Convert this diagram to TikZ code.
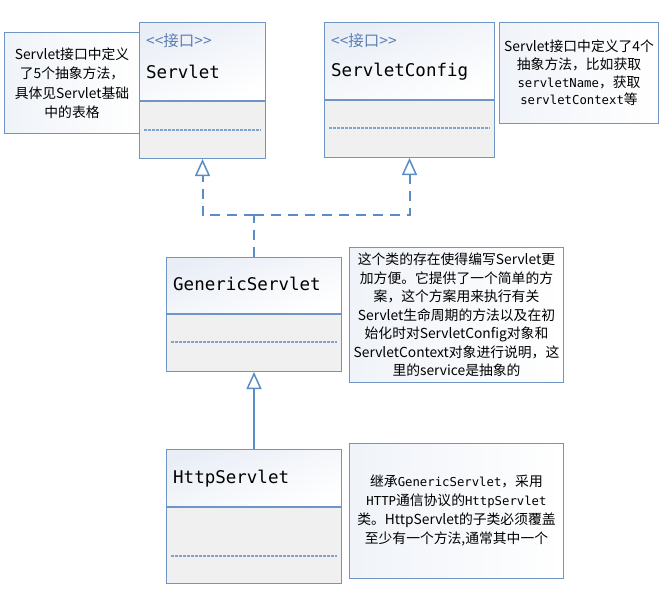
\documentclass[tikz,border=0pt]{standalone}
\usepackage{fontspec}
\setmainfont{Noto Sans CJK SC}
\setmonofont{DejaVu Sans Mono}
\usetikzlibrary{arrows.meta}

\definecolor{umlblue}{HTML}{6F95C4}
\definecolor{arrowblue}{HTML}{5A8CC6}
\definecolor{stereoblue}{HTML}{5B80B2}
\definecolor{lowfill}{HTML}{F0F0F1}
\definecolor{topfill}{HTML}{E9EEF6}
\definecolor{dashblue}{HTML}{7FA3D0}

\newcommand{\notefont}{\fontsize{13.8pt}{18.5pt}\selectfont}
\newcommand{\classfont}{\ttfamily\fontsize{17.5pt}{20pt}\selectfont}
\newcommand{\stereofont}{\fontsize{15.5pt}{18pt}\selectfont}
\newcommand{\code}[1]{{\ttfamily\fontsize{12.3pt}{18.5pt}\selectfont #1}}

\begin{document}
\begin{tikzpicture}[x=1pt, y=-1pt,
    classtop/.style={draw=umlblue, line width=1pt, anchor=north west, inner sep=0pt,
        top color=topfill, bottom color=white, shading angle=20},
    classlow/.style={draw=umlblue, line width=1pt, anchor=north west, inner sep=0pt, fill=lowfill},
    note/.style={draw=umlblue, line width=1pt, anchor=north west, inner sep=0pt,
        left color=topfill!70, right color=white, align=center, font=\notefont},
    classname/.style={anchor=base west, inner sep=0pt, font=\classfont},
    stereo/.style={anchor=base west, inner sep=0pt, font=\stereofont, text=stereoblue},
    opline/.style={draw=dashblue, line width=1.3pt, dash pattern=on 2.5pt off 1.5pt},
    realize/.style={draw=arrowblue, line width=2pt, dash pattern=on 10pt off 7pt},
    inherit/.style={draw=arrowblue, line width=2pt},
    hollow/.style={-{Triangle[open, width=15pt, length=17pt, line width=1.5pt]}}]
    \useasboundingbox[fill=white] (0,0) rectangle (663,591);

    % notes
    \node[note, minimum width=135pt, minimum height=101pt, font=\fontsize{13.8pt}{19.5pt}\selectfont] (servletnote) at (4,32)
        {Servlet接口中定义\\了5个抽象方法，\\具体见Servlet基础\\中的表格};
    \node[note, minimum width=159pt, minimum height=101pt, font=\fontsize{13.8pt}{17.7pt}\selectfont] (confignote) at (499,22)
        {Servlet接口中定义了4个\\抽象方法，比如获取\\\code{servletName}，获取\\\code{servletContext}等};
    \node[note, minimum width=214pt, minimum height=135pt] (genericnote) at (349,247)
        {这个类的存在使得编写Servlet更\\加方便。它提供了一个简单的方\\案，这个方案用来执行有关\\Servlet生命周期的方法以及在初\\始化时对ServletConfig对象和\\ServletContext对象进行说明，这\\里的service是抽象的};
    \node[note, minimum width=214pt, minimum height=135pt, font=\fontsize{13.8pt}{19pt}\selectfont] (httpnote) at (349,443)
        {继承\code{GenericServlet}，采用\\\code{HTTP}通信协议的\code{HttpServlet}\\类。HttpServlet的子类必须覆盖\\至少有一个方法,通常其中一个};

    % Servlet
    \node[classtop, minimum width=126pt, minimum height=78pt] (servlet) at (139,22) {};
    \node[classlow, minimum width=126pt, minimum height=57pt] (servletlow) at (servlet.south west) {};
    \node[stereo] (servletst) at ([xshift=7pt, yshift=-25pt]servlet.north west) {<\kern0pt<接口>\kern0pt>};
    \node[classname] (servletname) at ([xshift=7pt, yshift=-57pt]servlet.north west) {Servlet};
    \draw[opline] ([xshift=5pt, yshift=-29pt]servletlow.north west) -- ([xshift=-5pt, yshift=-29pt]servletlow.north east);

    % ServletConfig
    \node[classtop, minimum width=170pt, minimum height=77pt] (config) at (324,22) {};
    \node[classlow, minimum width=170pt, minimum height=57pt] (configlow) at (config.south west) {};
    \node[stereo] (configst) at ([xshift=7pt, yshift=-25pt]config.north west) {<\kern0pt<接口>\kern0pt>};
    \node[classname] (configname) at ([xshift=7pt, yshift=-55pt]config.north west) {ServletConfig};
    \draw[opline] ([xshift=5pt, yshift=-28pt]configlow.north west) -- ([xshift=-5pt, yshift=-28pt]configlow.north east);

    % GenericServlet
    \node[classtop, minimum width=175pt, minimum height=56pt] (generic) at (166,257) {};
    \node[classlow, minimum width=175pt, minimum height=57pt] (genericlow) at (generic.south west) {};
    \node[classname] (genericname) at ([xshift=7pt, yshift=-33pt]generic.north west) {GenericServlet};
    \draw[opline] ([xshift=5pt, yshift=-28pt]genericlow.north west) -- ([xshift=-5pt, yshift=-28pt]genericlow.north east);

    % HttpServlet
    \node[classtop, minimum width=175pt, minimum height=57pt] (http) at (166,449) {};
    \node[classlow, minimum width=175pt, minimum height=76pt] (httplow) at (http.south west) {};
    \node[classname] (httpname) at ([xshift=7pt, yshift=-34pt]http.north west) {HttpServlet};
    \draw[opline] ([xshift=5pt, yshift=-49pt]httplow.north west) -- ([xshift=-5pt, yshift=-49pt]httplow.north east);

    % connectors
    \coordinate (fork) at (generic.north |- 0,215);
    \draw[realize] (generic.north) -- (fork);
    \draw[realize, hollow] (fork) -| (servletlow.south);
    \draw[realize, hollow] (fork) -| (configlow.south);
    \draw[inherit, hollow] (http.north) -- (genericlow.south);
\end{tikzpicture}
\end{document}
